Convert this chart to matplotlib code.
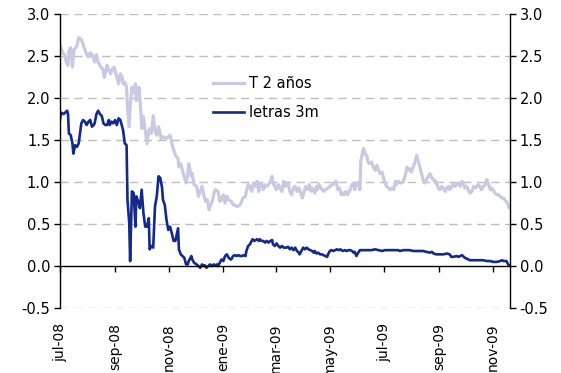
import numpy as np
import matplotlib
matplotlib.use("Agg")
import matplotlib.pyplot as plt

# ----------------------------------------------------------
# data, x = days since 2008-07-01
# ----------------------------------------------------------
start = np.datetime64("2008-07-01")

t2_days = [0, 3, 5, 7, 9, 10, 12, 14, 16, 19, 21, 24, 26, 28, 30, 32, 34, 36,
           39, 41, 43, 46, 48, 50, 53, 55, 57, 59, 61, 63, 66, 68, 70, 71, 73,
           75, 76, 78, 79, 81, 83, 85, 86, 88, 89, 91, 92, 94, 96, 98, 100,
           101, 103, 105, 107, 109, 111, 114, 116, 120, 124, 127,
           130, 133, 134, 136, 139, 142, 144, 145, 148, 149, 151, 154, 156,
           158, 160, 162, 164, 166, 168, 170, 172, 174, 175, 178, 180, 182,
           184, 186, 188, 190, 193, 195, 197, 199, 202, 204, 206, 209, 210,
           212, 214, 216, 218, 220, 222, 224, 225, 227, 229, 231, 233, 235,
           237, 239, 240, 242, 244, 246, 248, 250, 252, 254, 255, 257, 259,
           261, 263,
           265, 267, 269, 270, 273, 275, 277, 279, 281, 283, 284, 287, 289,
           290, 292, 294, 297, 299, 302, 304, 307, 309, 311, 313, 315, 317,
           319, 320, 322, 324, 327, 329, 331, 332, 334, 336, 338, 339, 342,
           344, 346, 347, 349, 351, 353, 355, 357, 359, 361, 363, 364, 366,
           368, 370, 372, 374, 376, 378, 379, 381, 383,
           385, 387, 389, 391, 393, 394, 396, 398, 400, 402, 404, 406, 408,
           409, 411, 413, 415, 417, 419, 421, 423, 424, 426, 428, 430, 432,
           434, 436, 438, 439, 441, 443, 445, 447, 449, 451, 453, 455, 456,
           458, 460, 462, 464, 466, 468, 470, 471, 473, 475, 477, 479, 481,
           483, 485, 486, 488, 490, 492, 494, 496, 498, 500, 501, 503, 505,
           506]
t2_vals = [2.64, 2.54, 2.52, 2.43, 2.39, 2.56, 2.60, 2.37, 2.58, 2.62, 2.72,
           2.70, 2.64, 2.58, 2.52, 2.49, 2.54, 2.52, 2.43, 2.52, 2.43, 2.37,
           2.35, 2.25, 2.39, 2.33, 2.29, 2.35, 2.37, 2.29, 2.17, 2.29, 2.25,
           2.17, 2.19, 2.13, 1.89, 1.66, 1.89, 2.13, 2.07, 2.17, 1.97, 2.05,
           2.13, 1.85, 1.64, 1.78, 1.62, 1.46, 1.60, 1.64, 1.58, 1.79, 1.62,
           1.56, 1.66, 1.52, 1.54, 1.52, 1.56, 1.42,
           1.32, 1.28, 1.18, 1.22, 1.10, 0.99, 1.10, 1.22, 1.07, 1.10, 0.97,
           0.95, 0.83, 0.89, 0.95, 0.85, 0.77, 0.79, 0.67, 0.73, 0.79, 0.89,
           0.91, 0.89, 0.77, 0.79, 0.85, 0.75, 0.83, 0.79, 0.77, 0.73, 0.73,
           0.71, 0.72, 0.75, 0.81, 0.83, 0.89, 0.97, 0.95, 0.89, 0.99, 0.95,
           1.01, 0.89, 0.97, 0.99, 0.91, 0.97, 0.95, 0.97, 1.01, 1.07, 0.99,
           0.95, 0.91, 0.97, 0.93, 0.89, 1.01, 0.95, 0.97, 0.99, 0.89, 0.85,
           0.93,
           0.95, 0.89, 0.93, 0.91, 0.81, 0.89, 0.95, 0.91, 0.97, 0.89, 0.93,
           0.87, 0.95, 0.91, 0.97, 0.93, 0.89, 0.91, 0.93, 0.95, 0.97, 0.99,
           1.01, 0.91, 0.93, 0.85, 0.87, 0.85, 0.89, 0.85, 0.91, 0.97, 0.99,
           0.91, 0.99, 0.99, 0.91, 1.26, 1.40, 1.34, 1.30, 1.24, 1.22, 1.24,
           1.18, 1.14, 1.20, 1.14, 1.10, 1.12, 1.07, 0.99, 0.95, 0.93, 0.91,
           0.93, 0.91, 1.01, 0.97, 1.01, 0.99,
           0.99, 1.01, 1.08, 1.18, 1.14, 1.16, 1.12, 1.18, 1.24, 1.32, 1.24,
           1.16, 1.07, 1.03, 0.99, 1.03, 1.07, 1.10, 1.05, 1.03, 0.99, 1.01,
           0.93, 0.91, 0.95, 0.93, 0.89, 0.93, 0.95, 0.91, 0.93, 0.99, 0.95,
           0.97, 0.99, 0.95, 1.01, 0.97, 0.93, 0.95, 0.91, 0.87, 0.89, 0.95,
           0.93, 0.95, 0.97, 0.95, 0.91, 0.95, 0.97, 1.03, 0.97, 0.91, 0.93,
           0.91, 0.87, 0.85, 0.85, 0.83, 0.81, 0.81, 0.79, 0.77, 0.73, 0.70]

l3_days = [0, 1, 4, 6, 8, 9, 10, 12, 14, 15, 17, 19, 21, 23, 24, 26, 28, 30,
           32, 34, 36, 38, 39, 41, 43, 45, 47, 49, 51, 53, 55, 56, 58, 60, 62,
           64, 66, 68, 70, 71, 73, 75, 76, 78, 79, 81, 83, 85, 86, 88, 90,
           92, 94, 96, 98, 100, 101, 103, 105, 107, 109, 111, 113, 115, 116,
           118, 120, 122, 124, 126, 128,
           130, 133, 134, 136, 138, 140, 142, 144, 145, 148, 149, 151, 154,
           156, 158, 160, 162, 163, 165, 167, 169, 171, 173, 175, 177, 178,
           180, 182, 184, 186, 188, 190, 192, 193, 195, 197, 199, 201, 203,
           205, 207, 209, 210, 212, 214, 217, 219, 222, 224, 225, 227, 229,
           231, 233, 235, 237, 239, 240, 242, 244, 246, 248, 250, 252, 254,
           255, 257, 259, 261, 263,
           265, 267, 269, 270, 272, 274, 276, 278, 280, 282, 284, 286, 287,
           289, 291, 293, 295, 297, 299, 301, 302, 304, 306, 308, 310, 312,
           314, 316, 317, 319, 321, 323, 325, 327, 329, 331, 332, 334, 336,
           338, 340, 344, 347, 351, 355, 359, 363, 366, 370, 374, 378, 381,
           383, 387, 391, 394, 398, 402, 406, 409, 413, 417, 419, 421, 424,
           428, 432, 436, 439, 441, 443, 447, 449, 453, 455, 456, 458, 460,
           462, 466, 470, 473, 477, 481, 485, 488, 492, 496, 498, 500, 503,
           505, 506]
l3_vals = [1.74, 1.83, 1.81, 1.83, 1.85, 1.81, 1.58, 1.56, 1.46, 1.34, 1.44,
           1.42, 1.46, 1.62, 1.70, 1.74, 1.72, 1.68, 1.72, 1.74, 1.66, 1.68,
           1.70, 1.81, 1.85, 1.81, 1.79, 1.70, 1.68, 1.68, 1.74, 1.68, 1.72,
           1.70, 1.74, 1.68, 1.76, 1.74, 1.66, 1.62, 1.46, 1.44, 0.79, 0.51,
           0.06, 0.89, 0.87, 0.47, 0.83, 0.77, 0.69, 0.91, 0.63, 0.47, 0.47,
           0.57, 0.20, 0.24, 0.22, 0.71, 0.83, 1.07, 1.05, 0.93, 0.79, 0.73,
           0.55, 0.43, 0.47, 0.39, 0.30,
           0.30, 0.45, 0.20, 0.14, 0.12, 0.10, 0.02, 0.02, 0.06, 0.12, 0.08,
           0.04, 0.02, 0.00, -0.02, 0.02, 0.00, 0.01, -0.02, 0.00, 0.02, 0.00,
           0.02, 0.01, 0.02, 0.00, 0.04, 0.08, 0.06, 0.12, 0.14, 0.10, 0.08,
           0.08, 0.12, 0.13, 0.12, 0.13, 0.12, 0.12, 0.13, 0.12, 0.18, 0.24,
           0.26, 0.32, 0.30, 0.32, 0.30, 0.32, 0.30, 0.30, 0.28, 0.30, 0.28,
           0.30, 0.31, 0.26, 0.24, 0.27, 0.24, 0.22, 0.24, 0.22, 0.22, 0.22,
           0.23, 0.20, 0.22, 0.19,
           0.22, 0.18, 0.16, 0.14, 0.18, 0.22, 0.20, 0.22, 0.20, 0.19, 0.18,
           0.16, 0.18, 0.15, 0.16, 0.14, 0.14, 0.13, 0.12, 0.11, 0.14, 0.18,
           0.19, 0.18, 0.19, 0.20, 0.19, 0.20, 0.19, 0.18, 0.19, 0.18, 0.19,
           0.19, 0.18, 0.16, 0.17, 0.12, 0.16, 0.19, 0.19, 0.19, 0.19, 0.19,
           0.20, 0.19, 0.18, 0.19, 0.19, 0.19, 0.19, 0.19,
           0.18, 0.19, 0.19, 0.19, 0.18, 0.18, 0.18, 0.18, 0.17, 0.16, 0.17,
           0.15, 0.14, 0.14, 0.14, 0.15, 0.14, 0.11, 0.11, 0.12, 0.11, 0.13,
           0.11, 0.10, 0.09, 0.08, 0.07, 0.07, 0.07, 0.07, 0.07, 0.06, 0.06,
           0.05, 0.05, 0.06, 0.07, 0.06, 0.06, 0.02, 0.01]

tick_dates = ["2008-07-01", "2008-09-01", "2008-11-01", "2009-01-01",
              "2009-03-01", "2009-05-01", "2009-07-01", "2009-09-01",
              "2009-11-01"]
tick_labels = ["jul-08", "sep-08", "nov-08", "ene-09", "mar-09", "may-09",
               "jul-09", "sep-09", "nov-09"]
y_ticks = [-0.5, 0.0, 0.5, 1.0, 1.5, 2.0, 2.5, 3.0]

# ----------------------------------------------------------
# plot
# ----------------------------------------------------------
plt.rcParams["font.family"] = "DejaVu Sans"
plt.rcParams["font.size"] = 10.5

t2_x = start + np.array(t2_days, dtype="timedelta64[D]")
l3_x = start + np.array(l3_days, dtype="timedelta64[D]")
ticks_x = np.array(tick_dates, dtype="datetime64[D]")

fig = plt.figure(figsize=(5.61, 3.73), dpi=100)
ax = fig.add_axes([0.107, 0.174, 0.802, 0.788])

ax.plot(t2_x, t2_vals, color="#C9C9E1", lw=2.3, label="T 2 años")
ax.plot(l3_x, l3_vals, color="#13298C", lw=1.9, label="letras 3m")

ax.set_ylim(-0.5, 3.0)
ax.set_xlim(start, start + np.timedelta64(507, "D"))

# dashed grid lines (the one at zero is covered by the axis)
for v in y_ticks:
    if v != 0.0:
        ax.axhline(v, color="#BDBDBD", lw=1.0, ls=(0, (6, 4)), zorder=0)

ax.set_yticks(y_ticks)
ax.set_yticklabels(["%.1f" % v for v in y_ticks])
ax.tick_params(axis="y", which="both", direction="out", length=4, width=1,
               left=True, right=True, labelleft=True, labelright=True, pad=3)

ax.set_xticks(ticks_x)
ax.set_xticklabels(tick_labels)
ax.tick_params(axis="x", direction="out", length=4, width=1, pad=37,
               labelrotation=90, labelsize=10)

ax.spines["top"].set_visible(False)
ax.spines["bottom"].set_position(("data", 0))
for s in ["left", "right", "bottom"]:
    ax.spines[s].set_color("black")
    ax.spines[s].set_linewidth(1.0)

ax.legend(loc="upper left", bbox_to_anchor=(0.34, 0.79), frameon=False,
          borderpad=0, borderaxespad=0, handlelength=2.1, handletextpad=0.35,
          labelspacing=0.95)

fig.savefig("out.png", dpi=100)
